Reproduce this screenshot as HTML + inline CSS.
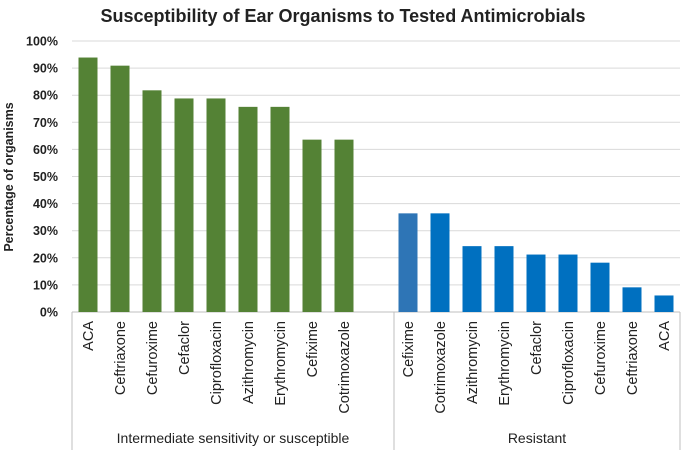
<!DOCTYPE html>
<html><head><meta charset="utf-8"><style>
html,body{margin:0;padding:0;background:#fff;}
svg{display:block;font-family:"Liberation Sans",Arial,sans-serif;}
</style></head><body>
<svg id="chart" width="685" height="450" viewBox="0 0 685 450">
<text x="343" y="22" text-anchor="middle" font-size="18" font-weight="bold" fill="#222">Susceptibility of Ear Organisms to Tested Antimicrobials</text>
<text transform="translate(13,177) rotate(-90)" text-anchor="middle" font-size="12.5" font-weight="bold" fill="#222">Percentage of organisms</text>
<g id="grid"></g><g id="bars"></g><g id="xlabels"></g>
</svg>
<script>
const groups = ["Intermediate sensitivity or susceptible", "Resistant"];
const susCats = ["ACA","Ceftriaxone","Cefuroxime","Cefaclor","Ciprofloxacin","Azithromycin","Erythromycin","Cefixime","Cotrimoxazole"];
const susVals = [93.9, 90.9, 81.8, 78.8, 78.8, 75.7, 75.7, 63.6, 63.6];
const resCats = ["Cefixime","Cotrimoxazole","Azithromycin","Erythromycin","Cefaclor","Ciprofloxacin","Cefuroxime","Ceftriaxone","ACA"];
const resVals = [36.4, 36.4, 24.3, 24.3, 21.2, 21.2, 18.2, 9.1, 6.1];
const yTicks = [0,10,20,30,40,50,60,70,80,90,100];

const NS = "http://www.w3.org/2000/svg";
const L = 72, R = 680, T = 41, B = 312;
const nSlots = susCats.length + 1 + resCats.length;
const slot = (R - L) / nSlots;
const y = v => B - (v / 100) * (B - T);
const x = i => L + slot * (i + 0.5);
const SEP = 394;
function mk(tag, attrs, parent){const e=document.createElementNS(NS,tag);for(const k in attrs)e.setAttribute(k,attrs[k]);parent.appendChild(e);return e;}
const grid = document.getElementById('grid'), bars = document.getElementById('bars'), xl = document.getElementById('xlabels');

yTicks.forEach(t => {
  const g = mk('line',{x1:L,x2:R,y1:y(t),y2:y(t),stroke:'#d9d9d9','stroke-width':1},grid);
  
  
  const tx = mk('text',{x:58,y:y(t)+4.5,'text-anchor':'end','font-size':12.5,'font-weight':'bold',fill:'#222'},grid);
  tx.textContent = t + '%';
  
  
});
const ax = mk('line',{x1:L,x2:R,y1:B,y2:B,stroke:'#bfbfbf'},grid);


[L, SEP, R].forEach(sx => {
  const s = mk('line',{x1:sx,x2:sx,y1:B,y2:450,stroke:'#bfbfbf'},grid);
  
  
});

const bw = 19;
function drawSeries(cats, vals, offset, color, altFirst){
  cats.forEach((c,i) => {
    const cx = x(i + offset);
    const r = mk('rect',{x:cx-bw/2,y:y(vals[i]),width:bw,height:B-y(vals[i]),fill:(altFirst&&i===0)?'#2e75b6':color},bars);
    
    
    const t = mk('text',{transform:`translate(${cx+5},${B+9}) rotate(-90)`,'text-anchor':'end','font-size':14.5,fill:'#222'},xl);
    t.textContent = c;
    
    
  });
}
drawSeries(susCats, susVals, 0, '#548235', false);
drawSeries(resCats, resVals, susCats.length + 1, '#0070c0', true);

const g1 = mk('text',{x:(L + SEP)/2,y:443,'text-anchor':'middle','font-size':14,fill:'#222'},xl);
g1.textContent = groups[0];


const g2 = mk('text',{x:(SEP + R)/2,y:443,'text-anchor':'middle','font-size':14,fill:'#222'},xl);
g2.textContent = groups[1];


</script>
</body></html>
